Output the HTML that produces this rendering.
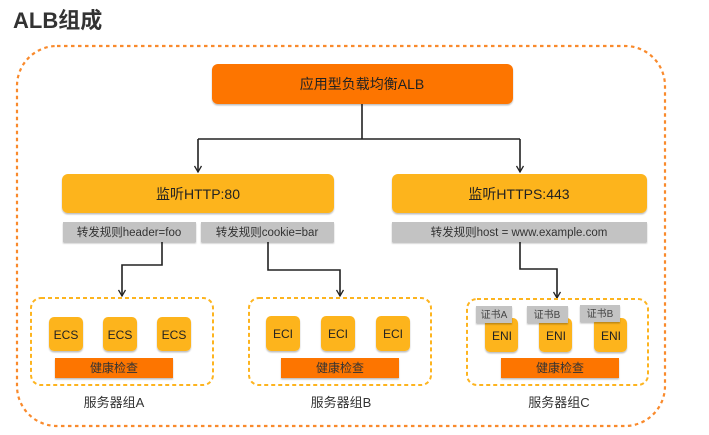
<!DOCTYPE html>
<html><head><meta charset="utf-8"><style>
html,body{margin:0;padding:0;background:#fff;width:709px;height:435px;overflow:hidden}
svg{display:block}
text{font-family:"Liberation Sans","Noto Sans CJK SC",sans-serif}
</style></head><body>
<svg width="709" height="435" viewBox="0 0 709 435" xmlns="http://www.w3.org/2000/svg">
<defs>
<marker id="ar" markerWidth="8" markerHeight="8" refX="4" refY="7" orient="0" markerUnits="userSpaceOnUse">
<path d="M0.5,1 L4,7 L7.5,1" fill="none" stroke="#222" stroke-width="1.3"/>
</marker>
<filter id="sh" x="-5%" y="-5%" width="110%" height="130%"><feDropShadow dx="0" dy="1.5" stdDeviation="0.8" flood-color="#000" flood-opacity="0.25"/></filter>
</defs>
<text x="13" y="28" font-size="22" font-weight="bold" fill="#333">ALB组成</text>
<rect x="17" y="46" width="648" height="380" rx="40" fill="none" stroke="#f98a2c" stroke-width="2.2" stroke-dasharray="3.5,3.5"/>
<rect x="212" y="64" width="301" height="40" rx="6" fill="#fd7400" filter="url(#sh)"/>
<text x="362" y="89" font-size="14" text-anchor="middle" fill="#222">应用型负载均衡ALB</text>
<g fill="none" stroke="#222" stroke-width="1.6">
<path d="M362,104 V139 M198,139 H520"/>
<path d="M198,139 V172" marker-end="url(#ar)"/>
<path d="M520,139 V172" marker-end="url(#ar)"/>
<path d="M162,242 V265 H122 V296" marker-end="url(#ar)"/>
<path d="M268,242 V270 H340 V296" marker-end="url(#ar)"/>
<path d="M520,242 V269 H557 V298" marker-end="url(#ar)"/>
</g>
<rect x="62" y="174" width="272" height="39" rx="6" fill="#fdb41f" filter="url(#sh)"/>
<text x="198" y="199" font-size="14" text-anchor="middle" fill="#222">监听HTTP:80</text>
<rect x="392" y="174" width="255" height="39" rx="6" fill="#fdb41f" filter="url(#sh)"/>
<text x="519" y="199" font-size="14" text-anchor="middle" fill="#222">监听HTTPS:443</text>
<g filter="url(#sh)" fill="#c3c3c3">
<rect x="63" y="222" width="133" height="20"/>
<rect x="201" y="222" width="133" height="20"/>
<rect x="392" y="222" width="255" height="20"/>
</g>
<g font-size="11.5" fill="#333" text-anchor="middle">
<text x="129" y="236">转发规则header=foo</text>
<text x="267" y="236">转发规则cookie=bar</text>
<text x="519" y="236">转发规则host = www.example.com</text>
</g>
<g fill="none" stroke="#fdb41f" stroke-width="2" stroke-dasharray="4,3">
<rect x="31" y="298" width="182" height="87" rx="10"/>
<rect x="249" y="298" width="182" height="87" rx="10"/>
<rect x="467" y="299" width="181" height="86" rx="10"/>
</g>
<g fill="#fdb41f" filter="url(#sh)">
<rect x="49" y="317" width="34" height="34" rx="5"/>
<rect x="103" y="317" width="34" height="34" rx="5"/>
<rect x="157" y="317" width="34" height="34" rx="5"/>
<rect x="266" y="316" width="34" height="35" rx="5"/>
<rect x="321" y="316" width="34" height="35" rx="5"/>
<rect x="376" y="316" width="34" height="35" rx="5"/>
<rect x="485" y="318" width="33" height="34" rx="5"/>
<rect x="539" y="318" width="33" height="34" rx="5"/>
<rect x="594" y="318" width="33" height="34" rx="5"/>
</g>
<g font-size="12" fill="#222" text-anchor="middle">
<text x="66" y="339">ECS</text><text x="120" y="339">ECS</text><text x="174" y="339">ECS</text>
<text x="283" y="338">ECI</text><text x="338" y="338">ECI</text><text x="393" y="338">ECI</text>
<text x="502" y="340">ENI</text><text x="556" y="340">ENI</text><text x="611" y="340">ENI</text>
</g>
<g fill="#c3c3c3" filter="url(#sh)">
<rect x="476" y="306" width="36" height="17"/>
<rect x="527" y="306" width="41" height="17"/>
<rect x="580" y="305" width="40" height="17"/>
</g>
<g font-size="10" fill="#444" text-anchor="middle">
<text x="494" y="318">证书A</text><text x="547" y="318">证书B</text><text x="600" y="317">证书B</text>
</g>
<g fill="#fd7400" filter="url(#sh)">
<rect x="55" y="358" width="118" height="20"/>
<rect x="281" y="358" width="118" height="20"/>
<rect x="501" y="358" width="118" height="20"/>
</g>
<g font-size="12" fill="#333" text-anchor="middle">
<text x="114" y="372">健康检查</text><text x="340" y="372">健康检查</text><text x="560" y="372">健康检查</text>
</g>
<g font-size="13" fill="#333" text-anchor="middle">
<text x="114" y="407">服务器组A</text><text x="341" y="407">服务器组B</text><text x="559" y="407">服务器组C</text>
</g>
</svg>
</body></html>
